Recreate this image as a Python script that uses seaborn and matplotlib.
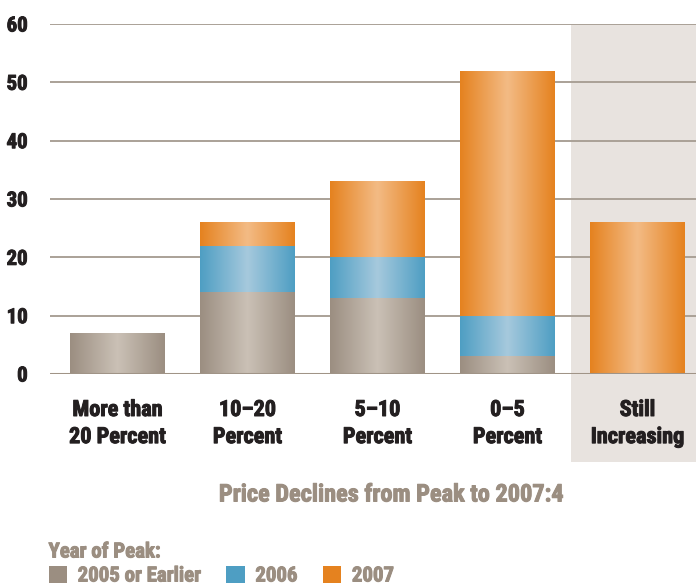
import numpy as np
import pandas as pd
import matplotlib
matplotlib.use("Agg")
import matplotlib.pyplot as plt
import matplotlib.patheffects as pe
import seaborn as sns
from matplotlib import font_manager
from matplotlib.colors import LinearSegmentedColormap
from matplotlib.patches import Rectangle, Patch
from matplotlib.transforms import blended_transform_factory

categories = ["More than\n20 Percent", "10–20\nPercent", "5–10\nPercent", "0–5\nPercent", "Still\nIncreasing"]
series_names = ["2005 or Earlier", "2006", "2007"]
vals_2005 = [7, 14, 13, 3, 0]
vals_2006 = [0, 8, 7, 7, 0]
vals_2007 = [0, 4, 13, 42, 26]
y_ticks = [0, 10, 20, 30, 40, 50, 60]

edge_cols = ["#9b8e81", "#4e9ec3", "#e5821f"]
mid_cols = ["#cbc1b6", "#a6c9dd", "#f3bb85"]
dark = "#231f20"
taupe = "#9b8e81"

sns.set_style("white")
avail = {f.name for f in font_manager.fontManager.ttflist}
fam = [f for f in ["Liberation Sans Narrow", "Roboto Condensed", "Liberation Sans"] if f in avail] + ["DejaVu Sans"]
plt.rcParams["font.family"] = fam
WT = "bold"


def thick(color):
    return [pe.withStroke(linewidth=0.7, foreground=color)]


fig = plt.figure(figsize=(6.96, 5.87), dpi=100)
W, H = 696, 587
ax = fig.add_axes([50 / W, (587 - 374) / H, (696 - 50) / W, 350 / H])

bottoms = np.zeros(len(categories))
layers = [vals_2005, vals_2006, vals_2007]
all_patches = []
for i, vals in enumerate(layers):
    before = len(ax.patches)
    sns.barplot(x=categories, y=vals, bottom=bottoms, color=edge_cols[i], width=0.73,
                ax=ax, linewidth=0, zorder=3, order=categories)
    all_patches.append((i, ax.patches[before:]))
    bottoms = bottoms + np.array(vals)

for i, patches in all_patches:
    cmap = LinearSegmentedColormap.from_list("g%d" % i, [edge_cols[i], mid_cols[i], edge_cols[i]])
    grad = np.linspace(0, 1, 256).reshape(1, -1)
    for p in patches:
        if p.get_height() <= 0:
            continue
        x0, y0 = p.get_x(), p.get_y()
        w, h = p.get_width(), p.get_height()
        ax.imshow(grad, cmap=cmap, extent=[x0, x0 + w, y0, y0 + h], aspect="auto",
                  zorder=4, interpolation="bicubic")

ax.set_xlim(-0.519, 4.45)
ax.set_ylim(0, 60)

trans = blended_transform_factory(ax.transData, ax.transAxes)
ax.add_patch(Rectangle((3.488, -0.252), 2, 1.252, transform=trans, facecolor="#e8e3df",
                       edgecolor="none", zorder=0, clip_on=False))

for t in y_ticks[1:]:
    ax.axhline(t, color="#aaa197", lw=1.4, zorder=1)
ax.axhline(0, color="#a09487", lw=2.2, zorder=5)

for s in ax.spines.values():
    s.set_visible(False)
ax.set_yticks(y_ticks)
ax.set_yticklabels([str(t) for t in y_ticks], fontsize=15, fontweight=WT, color=dark)
for lab in ax.get_yticklabels():
    lab.set_path_effects(thick(dark))
ax.tick_params(axis="y", length=0, pad=16)
ax.tick_params(axis="x", length=0, pad=18)
for lab in ax.get_xticklabels():
    lab.set_fontsize(16)
    lab.set_fontweight(WT)
    lab.set_color(dark)
    lab.set_linespacing(1.3)
    lab.set_path_effects(thick(dark))
ax.set_xlabel("")
ax.set_ylabel("")

fig.text(391 / W, 1 - 495 / H, "Price Declines from Peak to 2007:4", ha="center", va="center",
         fontsize=17.5, fontweight=WT, color=taupe, path_effects=thick(taupe))

handles = [Patch(facecolor=c, edgecolor="none") for c in edge_cols]
leg = fig.legend(handles, series_names, loc="lower left", bbox_to_anchor=(36 / W, -11 / H),
                 ncol=3, frameon=False, title="Year of Peak:", alignment="left",
                 prop={"size": 15, "weight": WT}, handlelength=0.9, handleheight=0.9,
                 handletextpad=0.5, columnspacing=1.2, borderaxespad=0.2, labelspacing=0.2)
leg.get_title().set_fontsize(15)
leg.get_title().set_fontweight(WT)
leg.get_title().set_color(taupe)
leg.get_title().set_path_effects(thick(taupe))
for t in leg.get_texts():
    t.set_color(taupe)
    t.set_path_effects(thick(taupe))

fig.savefig("out.png", dpi=100)
